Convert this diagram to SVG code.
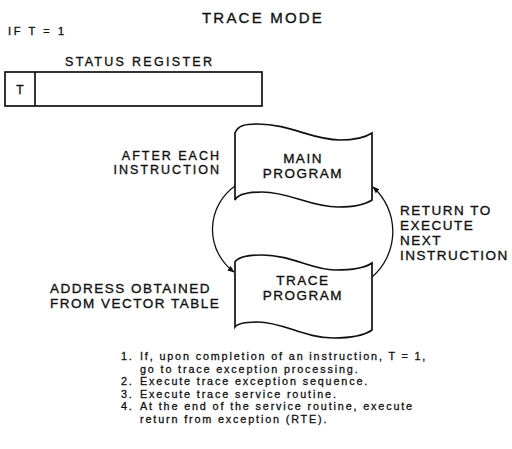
<svg xmlns="http://www.w3.org/2000/svg" width="512" height="449" viewBox="0 0 512 449">
<style>
  text { font-family: "Liberation Sans", Arial, sans-serif; fill: #111; stroke: #111; stroke-width: 0.35; }
  .t14 { font-size: 15px; letter-spacing: 2.2px; }
  .lbl { font-size: 13.5px; letter-spacing: 1.5px; }
  .lbl2 { font-size: 12.5px; letter-spacing: 2px; }
  .note { font-size: 10.8px; letter-spacing: 1.85px; stroke-width: 0.3; }
  .shape { fill: #fff; stroke: #111; stroke-width: 1.7; }
  .arc { fill: none; stroke: #111; stroke-width: 1.3; }
</style>
<defs>
  <marker id="ah" viewBox="0 0 10 10" refX="9" refY="5" markerWidth="7" markerHeight="7" markerUnits="userSpaceOnUse" orient="auto">
    <path d="M0,1 L10,5 L0,9 Z" fill="#111"/>
  </marker>
</defs>

<text class="t14" x="202" y="23">TRACE MODE</text>
<text x="8" y="35" style="font-size:11px;letter-spacing:2.6px">IF T = 1</text>

<g id="status-register">
  <text class="lbl" x="65" y="66" style="font-size:12.5px;letter-spacing:2.3px">STATUS REGISTER</text>
  <rect class="shape" x="5" y="72" width="257" height="34"/>
  <line x1="35" y1="72" x2="35" y2="106" stroke="#111" stroke-width="1.7"/>
  <text x="20" y="94" text-anchor="middle" style="font-size:12px">T</text>
</g>

<g id="connectors">
  <path class="arc" d="M235,186 A53,53 0 0 0 234,272" marker-end="url(#ah)"/>
  <path class="arc" d="M372,277 A60,60 0 0 0 373,187" marker-end="url(#ah)"/>
</g>

<g id="main-program">
  <path class="shape" d="M235,133 C238,125 246,124 258,124 C290,124 312,140 340,140 C356,140 366,137 372,133 L372,200 C366,204 356,207 338,207 C310,207 290,192 262,192 C248,192 238,194 235,200 Z"/>
  <text class="lbl" x="303" y="163" text-anchor="middle">MAIN</text>
  <text class="lbl" x="303" y="178" text-anchor="middle">PROGRAM</text>
</g>

<g id="trace-program">
  <path class="shape" d="M235,262 C238,257 248,255 262,255 C292,255 312,270 335,270 C352,270 365,268 372,263 L372,330 C365,335 352,338 333,338 C305,338 282,322 258,322 C246,322 238,323 235,327 Z"/>
  <text class="lbl" x="303" y="285" text-anchor="middle">TRACE</text>
  <text class="lbl" x="303" y="300" text-anchor="middle">PROGRAM</text>
</g>

<g id="label-after">
  <text class="lbl2" x="221" y="159.5" text-anchor="end">AFTER EACH</text>
  <text class="lbl2" x="221" y="173.5" text-anchor="end">INSTRUCTION</text>
</g>
<g id="label-return">
  <text class="lbl" x="400" y="215">RETURN TO</text>
  <text class="lbl" x="400" y="230">EXECUTE</text>
  <text class="lbl" x="400" y="245">NEXT</text>
  <text class="lbl" x="400" y="260">INSTRUCTION</text>
</g>
<g id="label-address">
  <text class="lbl" x="50" y="293">ADDRESS OBTAINED</text>
  <text class="lbl" x="50" y="308">FROM VECTOR TABLE</text>
</g>

<g id="notes">
  <text class="note" x="121" y="360">1.</text>
  <text class="note" x="140" y="360">If, upon completion of an instruction, T = 1,</text>
  <text class="note" x="140" y="372.5">go to trace exception processing.</text>
  <text class="note" x="121" y="385">2.</text>
  <text class="note" x="140" y="385">Execute trace exception sequence.</text>
  <text class="note" x="121" y="397.5">3.</text>
  <text class="note" x="140" y="397.5">Execute trace service routine.</text>
  <text class="note" x="121" y="410">4.</text>
  <text class="note" x="140" y="410">At the end of the service routine, execute</text>
  <text class="note" x="140" y="422.5">return from exception (RTE).</text>
</g>
</svg>
